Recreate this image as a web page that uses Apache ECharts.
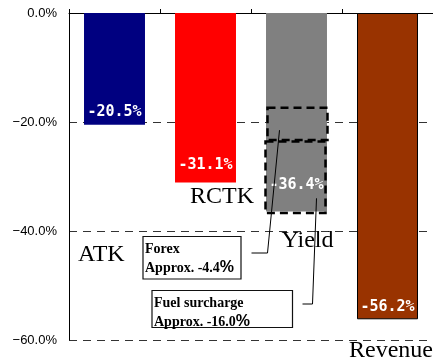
<!DOCTYPE html>
<html><head><meta charset="utf-8">
<script src="https://cdn.jsdelivr.net/npm/echarts@6/dist/echarts.min.js"></script>
<style>html,body{margin:0;padding:0;background:#fff}#chart{width:433px;height:363px}</style>
</head><body><div id="chart"></div>
<script>
// Year-on-year change by segment
const categories = ['ATK', 'RCTK', 'Yield', 'Revenue'];
const changes = [-20.5, -31.1, -36.4, -56.2];
const barColors = ['#000080', '#ff0000', '#808080', '#993300'];
const yTicks = [0, -20, -40, -60];
// Yield breakdown callouts
const factorNames = ['Forex', 'Fuel surcharge'];
const factorValues = [-4.4, -16.0];

const chart = echarts.init(document.getElementById('chart'), null, { renderer: 'canvas' });

const fmtPct = v => (v < 0 ? '\u2212' : '') + Math.abs(v).toFixed(1) + '%';
// how far each value label sits above its bar's end
const labelLift = [5, 10, 19, 5];

chart.setOption({
  animation: false,
  backgroundColor: '#fff',
  grid: { left: 69, top: 13, right: -1, bottom: 23 },
  xAxis: {
    type: 'category', position: 'top', data: categories,
    axisLine: { lineStyle: { color: '#000', width: 1 } },
    axisTick: { show: true, length: 4, lineStyle: { color: '#000' } },
    axisLabel: { show: false }
  },
  yAxis: {
    type: 'value', min: yTicks[yTicks.length - 1], max: yTicks[0], interval: 20,
    axisLine: { show: true, lineStyle: { color: '#000', width: 1 } },
    axisTick: { show: false },
    axisLabel: { formatter: fmtPct, fontFamily: 'Liberation Sans', fontSize: 13, color: '#000', margin: 12 },
    splitLine: { lineStyle: { color: '#333', type: [8, 6], width: 1 } }
  },
  series: [{
    type: 'bar', barCategoryGap: '33%',
    data: changes.map((v, i) => ({
      value: v,
      itemStyle: { color: barColors[i], borderColor: i === 3 ? '#000' : barColors[i], borderWidth: i === 3 ? 1 : 0 },
      label: { distance: labelLift[i] }
    })),
    label: {
      show: true, position: 'insideBottom', color: '#fff',
      fontFamily: 'DejaVu Sans Mono', fontWeight: 'bold', fontSize: 15,
      formatter: p => (p.value < 0 ? '-' : '') + Math.abs(p.value).toFixed(1) + '%'
    }
  }]
});

// pixel helpers
const px = (cat, v) => chart.convertToPixel({ gridIndex: 0 }, [cat, v]);
const yieldX = px(categories[2], 0)[0];
const boxes = [[-17.4, -23.3, 1], [-23.6, -36.7, -1]];
const graphics = [];

boxes.forEach(([top, bot, shift]) => {
  const y0 = px(categories[2], top)[1], y1 = px(categories[2], bot)[1];
  graphics.push({
    type: 'rect', z: 100,
    shape: { x: yieldX - 30 + shift, y: y0, width: 60, height: y1 - y0 },
    style: { fill: 'none', stroke: '#000', lineWidth: 2.5, lineDash: [8, 5] }
  });
});

// leader lines from the callouts into the yield bar
graphics.push({ type: 'polyline', z: 101, shape: { points: [[yieldX - 17, px(categories[2], -21.5)[1]], [yieldX - 29, 253], [yieldX - 45, 253]] }, style: { stroke: '#000', lineWidth: 1, fill: 'none' } });
graphics.push({ type: 'polyline', z: 101, shape: { points: [[yieldX + 20, px(categories[2], -34)[1]], [yieldX + 16, 304], [yieldX + 6, 304]] }, style: { stroke: '#000', lineWidth: 1, fill: 'none' } });

// callout boxes
const callouts = [
  { x: 143, y: 236.5, w: 98, h: 42.5 },
  { x: 152, y: 290.5, w: 140.5, h: 37 }
];
callouts.forEach((c, i) => {
  graphics.push({ type: 'rect', z: 100, shape: { x: c.x, y: c.y, width: c.w, height: c.h }, style: { fill: '#fff', stroke: '#111', lineWidth: 1.2 } });
  graphics.push({
    type: 'text', z: 102, x: c.x + 2, y: c.y + 3,
    style: {
      text: '{n|' + factorNames[i] + '}\n{a|Approx. ' + factorValues[i].toFixed(1) + '}{b|%}',
      rich: {
        n: { fontFamily: 'Liberation Serif', fontWeight: 'bold', fontSize: 14, lineHeight: 19, fill: '#000' },
        a: { fontFamily: 'Liberation Serif', fontWeight: 'bold', fontSize: 14, lineHeight: 19, fill: '#000' },
        b: { fontFamily: 'Liberation Sans', fontWeight: 'bold', fontSize: 16, lineHeight: 19, fill: '#000' }
      }
    }
  });
});

// category names
const catPos = [[78, 255], [190, 197], [281.5, 241], [349, 351]];
categories.forEach((name, i) => {
  graphics.push({
    type: 'text', z: 103, x: catPos[i][0], y: catPos[i][1],
    style: { text: name, fontFamily: 'Liberation Serif', fontSize: 24, fill: '#000', verticalAlign: 'middle', align: 'left' }
  });
});

chart.setOption({ graphic: graphics });
</script></body></html>
